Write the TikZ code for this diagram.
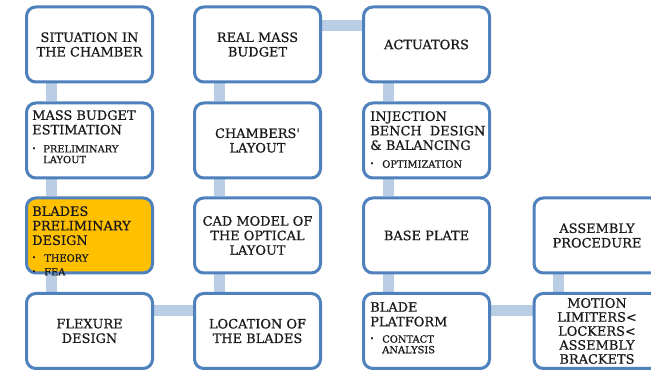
\documentclass[tikz,border=0pt]{standalone}
\usepackage{fontspec}
\setmainfont[FakeBold=0.3]{DejaVu Serif}
\newfontfamily\heavyserif[FakeBold=0.6]{DejaVu Serif}
\usetikzlibrary{backgrounds}
\definecolor{bordc}{HTML}{4F81BD}
\definecolor{barc}{HTML}{B9CDE5}
\definecolor{hil}{HTML}{FFC000}
\definecolor{txt}{HTML}{1A1A1A}
\begin{document}
\begin{tikzpicture}[x=0.75pt,y=-0.75pt,
 box/.style={draw=bordc,line width=2.25pt,rounded corners=7pt,fill=white,minimum width=94.5pt,minimum height=56.25pt,inner sep=0pt},
 hbox/.style={box,fill=hil},
 bar/.style={draw=barc,line width=8.25pt},
 ttl/.style={font=\heavyserif\fontsize{9.7}{10.9}\selectfont,text=txt,inner sep=0pt,align=center},
 ttll/.style={ttl,align=left,anchor=north west},
 sml/.style={font=\heavyserif\fontsize{7.4}{8}\selectfont,text=txt,inner sep=0pt,align=left,anchor=north west},
 dotb/.style={font=\fontsize{5}{5}\selectfont,text=txt,inner sep=0pt}]
\useasboundingbox (0,0) rectangle (651,370);
\clip (0,0) rectangle (651,370);
% boxes
\node[box]  (b1)  at (89.5,44.5) {};
\node[box]  (b2)  at (89.5,140.5) {};
\node[hbox] (b3)  at (89.5,235.5) {};
\node[box]  (b4)  at (89.5,331) {};
\node[box]  (b5)  at (257.5,44.5) {};
\node[box]  (b6)  at (257.5,140.5) {};
\node[box]  (b7)  at (257.5,235.5) {};
\node[box]  (b8)  at (257.5,331) {};
\node[box]  (b9)  at (426.5,44.5) {};
\node[box]  (b10) at (426.5,140.5) {};
\node[box]  (b11) at (426.5,235.5) {};
\node[box]  (b12) at (426.5,331) {};
\node[box]  (b13) at (597,235.5) {};
\node[box]  (b14) at (597,331) {};
% connectors
\begin{scope}[on background layer]
\draw[bar] ([xshift=19.5pt]b1.south west) -- ([xshift=19.5pt]b2.north west);
\draw[bar] ([xshift=19.5pt]b2.south west) -- ([xshift=19.5pt]b3.north west);
\draw[bar] ([xshift=19.5pt]b3.south west) -- ([xshift=19.5pt]b4.north west);
\draw[bar] ([yshift=-14.25pt]b4.north east) -- ([yshift=-14.25pt]b8.north west);
\draw[bar] ([xshift=19.5pt]b8.north west) -- ([xshift=19.5pt]b7.south west);
\draw[bar] ([xshift=19.5pt]b7.north west) -- ([xshift=19.5pt]b6.south west);
\draw[bar] ([xshift=19.5pt]b6.north west) -- ([xshift=19.5pt]b5.south west);
\draw[bar] ([yshift=-15pt]b5.north east) -- ([yshift=-15pt]b9.north west);
\draw[bar] ([xshift=19.5pt]b9.south west) -- ([xshift=19.5pt]b10.north west);
\draw[bar] ([xshift=19.5pt]b10.south west) -- ([xshift=19.5pt]b11.north west);
\draw[bar] ([xshift=19.5pt]b11.south west) -- ([xshift=19.5pt]b12.north west);
\draw[bar] ([yshift=-14.25pt]b12.north east) -- ([yshift=-14.25pt]b14.north west);
\draw[bar] ([xshift=19.5pt]b14.north west) -- ([xshift=19.5pt]b13.south west);
\end{scope}
% texts
\node[ttl] (t1) at (b1) {SITUATION IN\\THE CHAMBER};
\node[ttll] (t2) at (32,110) {MASS BUDGET\\ESTIMATION};
\node[dotb] (d2) at (34,149) {•};
\node[sml] (s2) at (43,145) {PRELIMINARY\\LAYOUT};
\node[ttll] (t3) at (32,206) {BLADES\\PRELIMINARY\\DESIGN};
\node[dotb] (d3a) at (34,258) {•};
\node[sml] (s3a) at (44,254) {THEORY};
\node[dotb] (d3b) at (34,272) {•};
\node[sml] (s3b) at (44,268) {FEA};
\node[ttl] (t4) at (b4) {FLEXURE\\DESIGN};
\node[ttl] (t5) at (b5) {REAL MASS\\BUDGET};
\node[ttl] (t6) at (b6) {CHAMBERS'\\LAYOUT};
\node[ttl] (t7) at (b7) {CAD MODEL OF\\THE OPTICAL\\LAYOUT};
\node[ttl] (t8) at (b8) {LOCATION OF\\THE BLADES};
\node[ttl] (t9) at (b9) {ACTUATORS};
\node[ttll] (t10) at (370,111) {INJECTION\\BENCH\ \ DESIGN\\\& BALANCING};
\node[dotb] (d10) at (372,164) {•};
\node[sml] (s10) at (382,160) {OPTIMIZATION};
\node[ttl] (t11) at (b11) {BASE PLATE};
\node[ttll] (t12) at (370,302) {BLADE\\PLATFORM};
\node[dotb] (d12) at (372,339) {•};
\node[sml] (s12) at (382,335) {CONTACT\\ANALYSIS};
\node[ttl] (t13) at (b13) {ASSEMBLY\\PROCEDURE};
\node[ttl,font=\heavyserif\fontsize{9.7}{10.5}\selectfont] (t14) at (b14) {MOTION\\LIMITERS<\\LOCKERS<\\ASSEMBLY\\BRACKETS};
\end{tikzpicture}
\end{document}
